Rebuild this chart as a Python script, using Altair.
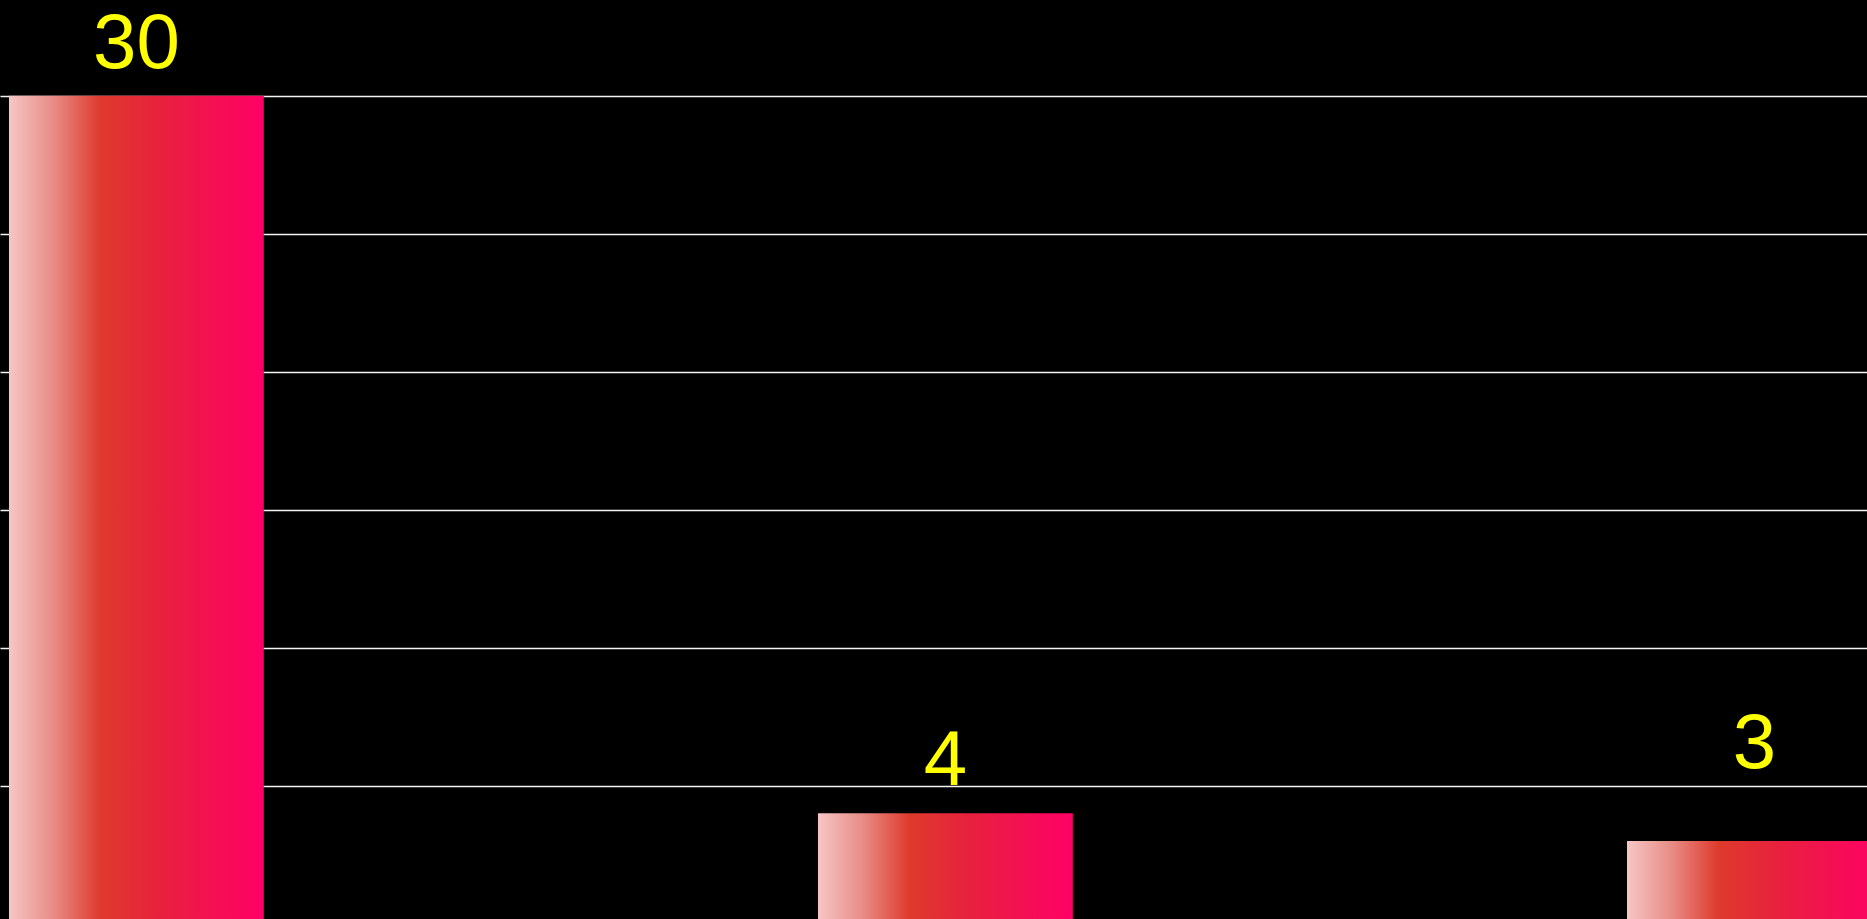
import altair as alt
import pandas as pd

categories = ["A", "B", "C"]
values = [30, 4, 3]
labels = ["30", "4", "3"]

df = pd.DataFrame({"cat": categories, "value": values, "label": labels})

gradient = alt.LinearGradient(
    gradient="linear",
    stops=[
        alt.GradientStop(color="#f6c6c4", offset=0),
        alt.GradientStop(color="#e88a84", offset=0.18),
        alt.GradientStop(color="#de3a2c", offset=0.36),
        alt.GradientStop(color="#e8203e", offset=0.6),
        alt.GradientStop(color="#ff0066", offset=1),
    ],
    x1=0, x2=1, y1=0, y2=0,
)

x_enc = alt.X(
    "cat:N",
    sort=categories,
    axis=None,
    scale=alt.Scale(range=[0, 1890.8], paddingInner=0.685, paddingOuter=0.0111),
)
y_scale = alt.Scale(domain=[0.17, 33.467], zero=False, nice=False)

bars = alt.Chart(df).mark_bar(fill=gradient, clip=True).encode(
    x=x_enc,
    y=alt.Y(
        "value:Q",
        scale=y_scale,
        axis=alt.Axis(
            values=[5, 10, 15, 20, 25, 30],
            labels=False, ticks=False, domain=False, title=None,
            grid=True, gridColor="#f4f4f4", gridWidth=1.5, gridOpacity=1,
        ),
    ),
    y2=alt.datum(0),
)

text_base = alt.Chart(df).encode(
    x=x_enc,
    y=alt.Y("value:Q", scale=y_scale),
    text="label:N",
)

text1 = text_base.transform_filter(alt.datum.value > 3).mark_text(
    color="#ffff00", font="Liberation Sans", fontSize=78, dy=-28,
    baseline="alphabetic", align="center",
)
text2 = text_base.transform_filter(alt.datum.value <= 3).mark_text(
    color="#ffff00", font="Liberation Sans", fontSize=78, dy=-73,
    baseline="alphabetic", align="center",
)

chart = (
    alt.layer(bars, text1, text2)
    .properties(width=1867, height=919, background="#000000", padding=0,
                autosize=alt.AutoSizeParams(type="none"))
    .configure_view(stroke=None, fill="#000000")
)

chart.save("out.html", embed_options={"renderer": "svg", "actions": False})
